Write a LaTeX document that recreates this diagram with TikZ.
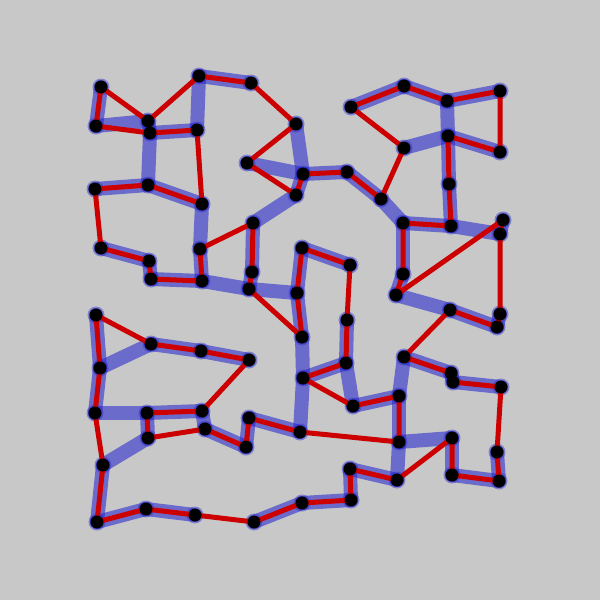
\documentclass[tikz,border=0pt]{standalone}
\definecolor{bg}{RGB}{200,200,200}
\definecolor{tourred}{RGB}{204,0,0}
\definecolor{treeblue}{RGB}{45,45,205}
\tikzset{
  treeedge/.style={draw=treeblue, draw opacity=0.6, line width=14pt, line cap=round},
  touredge/.style={draw=tourred, line width=5pt, line cap=round, line join=round},
  ring/.style={circle, fill=treeblue, fill opacity=0.45, inner sep=0pt, minimum size=17pt},
  dot/.style={circle, fill=black, inner sep=0pt, minimum size=13pt}
}
\begin{document}
\begin{tikzpicture}[x=1pt,y=-1pt]
\fill[bg] (0,0) rectangle (600,600);
\useasboundingbox (0,0) rectangle (600,600);
\foreach \i/\x/\y in {
1/101/87, 2/148/121, 3/96/126, 4/150/133, 5/197/130, 6/199/76, 7/251/83, 8/296/124,
9/247/163, 10/303/174, 11/296/195, 12/95/189, 13/148/185, 14/202/204, 15/253/223,
16/101/248, 17/200/249, 18/149/261, 19/151/279, 20/202/281, 21/252/272, 22/249/289,
23/302/248, 24/297/293, 25/351/107, 26/404/86, 27/447/101, 28/500/91, 29/500/152,
30/448/136, 31/404/148, 32/449/184, 33/451/226, 34/403/223, 35/381/199, 36/347/172,
37/503/220, 38/500/234, 39/403/274, 40/396/295, 41/350/265, 42/450/310, 43/500/314,
44/497/327, 45/302/337, 46/347/320, 47/346/363, 48/303/378, 49/353/406, 50/399/396,
51/404/357, 52/451/373, 53/453/382, 54/501/387, 55/300/432, 56/399/442, 57/452/438,
58/497/452, 59/499/481, 60/452/475, 61/397/480, 62/350/469, 63/351/500, 64/302/503,
65/96/315, 66/151/344, 67/201/351, 68/249/360, 69/100/368, 70/95/413, 71/147/413,
72/202/411, 73/148/438, 74/205/429, 75/246/447, 76/249/418, 77/103/465, 78/97/522,
79/146/509, 80/195/515, 81/254/522}
  \coordinate (n\i) at (\x,\y);
% spanning tree
\foreach \a/\b in {
1/3, 3/2, 2/4, 4/5, 4/13, 5/6, 6/7, 8/10, 9/10, 10/11, 11/15, 12/13, 13/14, 14/17,
17/20, 19/20, 18/19, 16/18, 20/22, 21/22, 15/21, 22/24, 23/24, 24/45, 23/41,
25/26, 26/27, 27/28, 27/30, 31/30, 30/29, 30/32, 32/33, 33/34, 33/38, 38/37, 34/35,
35/36, 36/10, 34/39, 39/40, 40/42, 42/44, 44/43,
45/48, 48/55, 48/47, 47/46, 47/49, 49/50, 50/51, 50/56, 56/57, 56/61, 61/62, 62/63,
63/64, 51/52, 52/53, 53/54, 57/60, 60/59, 59/58, 64/81,
65/69, 69/66, 66/67, 67/68, 69/70, 70/71, 71/72, 71/73, 73/77, 77/78, 78/79, 79/80,
72/74, 74/75, 75/76, 76/55}
  \draw[treeedge] (n\a) -- (n\b);
\foreach \i in {1,...,81}
  \node[ring] (r\i) at (n\i) {};
% tour
\draw[touredge] (n1) -- (n2) -- (n6) -- (n7) -- (n8) -- (n9) -- (n11) -- (n10) -- (n36)
  -- (n35) -- (n31) -- (n25) -- (n26) -- (n27) -- (n28) -- (n29) -- (n30) -- (n32)
  -- (n33) -- (n34) -- (n39) -- (n40) -- (n37) -- (n38) -- (n43) -- (n44) -- (n42)
  -- (n51) -- (n52) -- (n53) -- (n54) -- (n58) -- (n59) -- (n60) -- (n57) -- (n61)
  -- (n62) -- (n63) -- (n64) -- (n81) -- (n80) -- (n79) -- (n78) -- (n77) -- (n70)
  -- (n69) -- (n65) -- (n66) -- (n67) -- (n68) -- (n72) -- (n71) -- (n73) -- (n74)
  -- (n75) -- (n76) -- (n55) -- (n56) -- (n50) -- (n49) -- (n48) -- (n47) -- (n46)
  -- (n41) -- (n23) -- (n24) -- (n45) -- (n22) -- (n21) -- (n15) -- (n17) -- (n20)
  -- (n19) -- (n18) -- (n16) -- (n12) -- (n13) -- (n14) -- (n5) -- (n4) -- (n3) -- cycle;
\foreach \i in {1,...,81}
  \node[dot] (d\i) at (n\i) {};
\end{tikzpicture}
\end{document}
